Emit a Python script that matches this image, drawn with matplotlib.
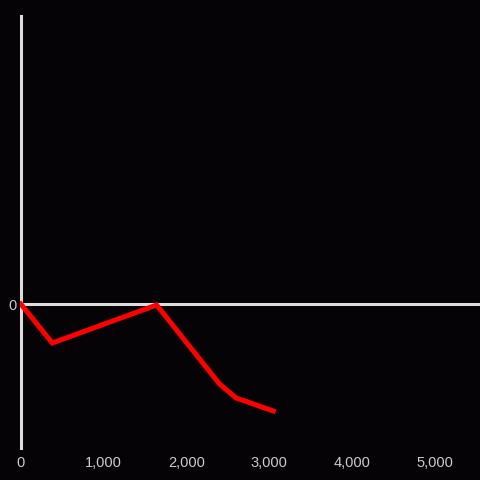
import matplotlib
matplotlib.use('Agg')
import matplotlib.pyplot as plt
from matplotlib.ticker import FuncFormatter

# data
x_vals = [0, 380, 1640, 2400, 2600, 3050]
y_vals = [0, -39, -1, -80, -94, -107]
x_ticks = [0, 1000, 2000, 3000, 4000, 5000]

bg = '#050306'
fg = '#dddddd'

plt.rcParams['font.family'] = ['Liberation Sans', 'DejaVu Sans']

fig = plt.figure(figsize=(4.8, 4.8), dpi=100, facecolor=bg)
ax = fig.add_axes([20/480, 32/480, 460/480, 432/480])
ax.set_facecolor(bg)

ax.plot(x_vals, y_vals, color='#ff0000', lw=3.6, solid_joinstyle='miter', zorder=3)
ax.axhline(0, color=fg, lw=2.2, zorder=2)

ax.set_xlim(-10, 5545)
ax.set_ylim(-144, 288)

for s in ['top', 'right', 'bottom']:
    ax.spines[s].set_visible(False)
ax.spines['left'].set_color(fg)
ax.spines['left'].set_linewidth(2.2)
ax.spines['left'].set_position(('data', 0))

ax.set_xticks(x_ticks)
ax.xaxis.set_major_formatter(FuncFormatter(lambda v, p: f'{int(v):,}'))
ax.set_yticks([0])
ax.tick_params(length=0, colors='#cccccc', labelsize=10.5)
ax.tick_params(axis='x', pad=6)
ax.tick_params(axis='y', pad=3)

fig.savefig('out.png', dpi=100, facecolor=bg)
